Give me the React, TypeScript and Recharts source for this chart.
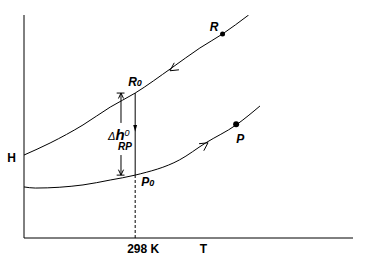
import React from "react";
import {
  LineChart,
  Line,
  XAxis,
  YAxis,
  ReferenceLine,
  ReferenceDot,
} from "recharts";

// upper curve (reactants R) and lower curve (products P), H in arbitrary units
const tempR = [200, 223, 252, 276, 298, 330, 355, 375, 398];
const enthalpyR = [37.2, 42.6, 50.7, 58.7, 65.0, 76.2, 85.2, 91.5, 100];
const tempP = [200, 210, 252, 276, 298, 337, 360, 387, 408];
const enthalpyP = [22.9, 22.4, 23.8, 26.0, 28.2, 35.0, 42.6, 50.7, 59.2];

const refTemp = 298;
const h0R = 65.0;
const h0P = 28.2;
const pointR = { t: 375, h: 91.5 };
const pointP = { t: 387, h: 51.0 };
const bracketT = 285.5;
const capT = [281.7, 288.6];
const xTicks = [298, 362];
const xTickLabels = ["298 K", "T"];
const yTicks = [35.9];
const yTickLabels = ["H"];

const seriesR = tempR.map((t, i) => ({ t, h: enthalpyR[i] }));
const seriesP = tempP.map((t, i) => ({ t, h: enthalpyP[i] }));

const FONT = "'Liberation Sans', Arial, sans-serif";

function arrow(angle: number, len = 8, spread = 28, filled = false) {
  return (p: any) => {
    const { cx, cy } = p;
    const back = ((angle + 180) * Math.PI) / 180;
    const s = (spread * Math.PI) / 180;
    const x1 = cx + len * Math.cos(back - s);
    const y1 = cy + len * Math.sin(back - s);
    const x2 = cx + len * Math.cos(back + s);
    const y2 = cy + len * Math.sin(back + s);
    if (filled)
      return <path d={`M${cx},${cy}L${x1},${y1}L${x2},${y2}Z`} fill="#000" />;
    return (
      <path
        d={`M${x1},${y1}L${cx},${cy}L${x2},${y2}`}
        fill="none"
        stroke="#000"
        strokeWidth={1}
      />
    );
  };
}

function label(content: React.ReactNode, dx: number, dy: number, anchor = "start") {
  return (p: any) => (
    <text
      x={p.cx + dx}
      y={p.cy + dy}
      textAnchor={anchor}
      fontFamily={FONT}
      fontWeight="bold"
      fontStyle="italic"
      fontSize={12}
      fill="#000"
    >
      {content}
    </text>
  );
}

export default function App() {
  return (
    <div style={{ position: "absolute", left: 0, top: 0, background: "#fff" }}>
      <LineChart
        width={373}
        height={267}
        margin={{ top: 15, right: 20, bottom: 0, left: 0 }}
      >
        <XAxis
          type="number"
          dataKey="t"
          domain={[200, 490]}
          ticks={xTicks}
          tickFormatter={(v: number) => xTickLabels[xTicks.indexOf(v)]}
          tickLine={false}
          tickMargin={0}
          height={29}
          axisLine={{ stroke: "#000" }}
          tick={{
            fill: "#000",
            fontSize: 12,
            fontWeight: "bold",
            fontFamily: FONT,
            textAnchor: "start",
            dx: -8,
          }}
          allowDataOverflow
        />
        <YAxis
          type="number"
          dataKey="h"
          domain={[0, 100]}
          ticks={yTicks}
          tickFormatter={(v: number) => yTickLabels[yTicks.indexOf(v)]}
          tickLine={false}
          width={24}
          axisLine={{ stroke: "#000" }}
          tick={{ fill: "#000", fontSize: 12, fontWeight: "bold", fontFamily: FONT }}
          allowDataOverflow
        />
        <Line
          data={seriesR}
          dataKey="h"
          type="monotone"
          stroke="#000"
          strokeWidth={1}
          dot={false}
          isAnimationActive={false}
        />
        <Line
          data={seriesP}
          dataKey="h"
          type="monotone"
          stroke="#000"
          strokeWidth={1}
          dot={false}
          isAnimationActive={false}
        />
        {/* 298 K: dashed below P0, solid between P0 and R0 */}
        <ReferenceLine
          segment={[{ x: refTemp, y: 0 }, { x: refTemp, y: h0P }]}
          stroke="#000"
          strokeDasharray="3 2"
        />
        <ReferenceLine
          segment={[{ x: refTemp, y: h0P }, { x: refTemp, y: h0R }]}
          stroke="#000"
        />
        {/* delta h bracket */}
        <ReferenceLine segment={[{ x: bracketT, y: h0R }, { x: bracketT, y: 51.6 }]} stroke="#000" />
        <ReferenceLine segment={[{ x: bracketT, y: 37.2 }, { x: bracketT, y: h0P }]} stroke="#000" />
        <ReferenceLine segment={[{ x: capT[0], y: h0R }, { x: capT[1], y: h0R }]} stroke="#000" />
        <ReferenceLine segment={[{ x: capT[0], y: h0P }, { x: capT[1], y: h0P }]} stroke="#000" />
        <ReferenceDot x={bracketT} y={h0R} r={0} shape={arrow(-90, 6, 25)} />
        <ReferenceDot x={bracketT} y={h0P} r={0} shape={arrow(90, 6, 25)} />
        <ReferenceDot x={refTemp} y={47.7} r={0} shape={arrow(90, 7, 16, true)} />
        {/* direction arrows on the curves */}
        <ReferenceDot x={328.7} y={75.0} r={0} shape={arrow(146, 9, 28)} />
        <ReferenceDot x={362.2} y={42.7} r={0} shape={arrow(-34, 9, 28)} />
        {/* state points */}
        <ReferenceDot x={pointR.t} y={pointR.h} r={2.5} fill="#000" stroke="none" />
        <ReferenceDot x={pointP.t} y={pointP.h} r={3} fill="#000" stroke="none" />
        {/* labels */}
        <ReferenceDot x={pointR.t} y={pointR.h} r={0} shape={label("R", -4, -3, "end")} />
        <ReferenceDot x={pointP.t} y={pointP.h} r={0} shape={label("P", 0, 19)} />
        <ReferenceDot
          x={refTemp}
          y={h0R}
          r={0}
          shape={label(
            <>
              R<tspan fontSize={9}>0</tspan>
            </>,
            -7,
            -7
          )}
        />
        <ReferenceDot
          x={refTemp}
          y={h0P}
          r={0}
          shape={label(
            <>
              P<tspan fontSize={9}>0</tspan>
            </>,
            6,
            11
          )}
        />
        <ReferenceDot
          x={bracketT}
          y={45.3}
          r={0}
          shape={(p: any) => (
            <g fontFamily={FONT} fill="#000" fontStyle="italic">
              <text x={p.cx - 13} y={p.cy + 3} fontSize={11}>
                Δ
                <tspan fontSize={15} fontWeight="bold">h</tspan>
                <tspan fontSize={9} dy={-4}>0</tspan>
              </text>
              <text x={p.cx - 3} y={p.cy + 13} fontSize={10} fontWeight="bold">
                RP
              </text>
            </g>
          )}
        />
      </LineChart>
    </div>
  );
}
